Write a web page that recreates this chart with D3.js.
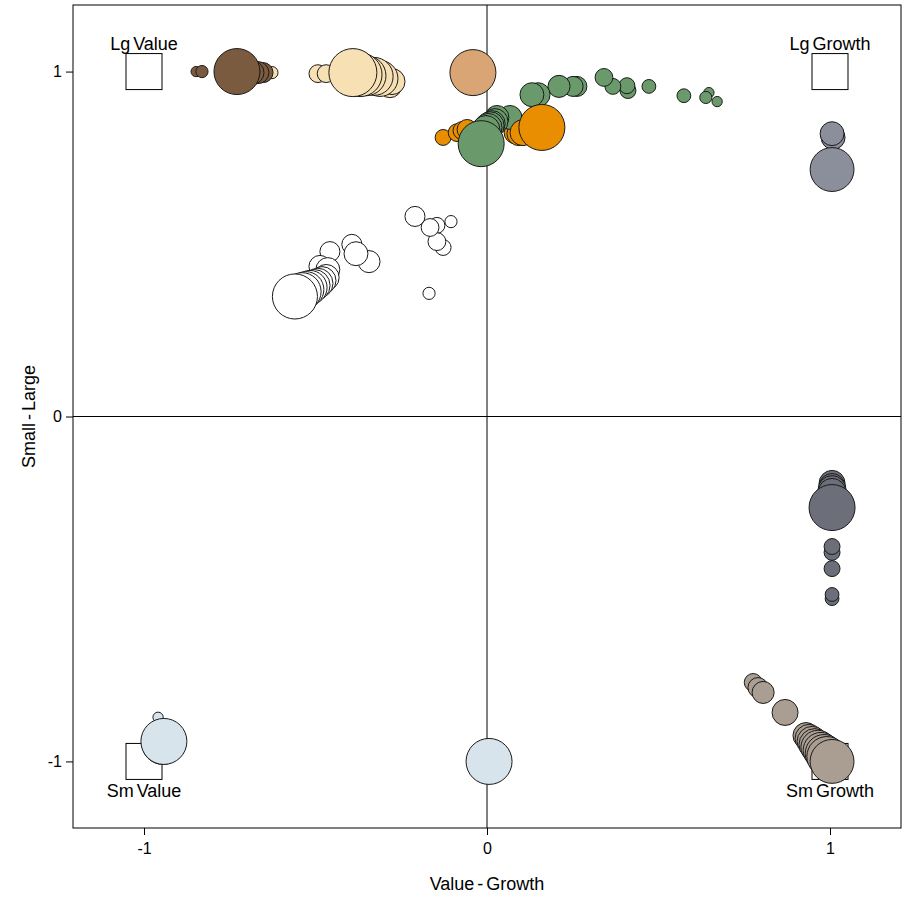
<!DOCTYPE html>
<html>
<head>
<meta charset="utf-8">
<script src="https://cdn.jsdelivr.net/npm/d3@7"></script>
<style>
  html, body { margin: 0; padding: 0; background: #fff; }
  svg { display: block; font-family: "Liberation Sans", Arial, sans-serif; }
</style>
</head>
<body>
<svg id="chart" width="912" height="897"></svg>
<script>
// ---- data: [value-growth, small-large, weight] (oldest -> newest) ----
const xTicks = [-1, 0, 1];
const yTicks = [-1, 0, 1];
const xTitle = "Value - Growth";
const yTitle = "Small - Large";

const styleBoxes = [
  { name: "Lg Value", x: -1, y: 1, pos: "above" },
  { name: "Lg Growth", x: 1, y: 1, pos: "above" },
  { name: "Sm Value", x: -1, y: -1, pos: "below" },
  { name: "Sm Growth", x: 1, y: -1, pos: "below" }
];

const brownPts = [[-0.848,1.000,5],[-0.831,1.000,7],[-0.653,0.997,19],[-0.668,0.997,23],[-0.685,0.997,27],[-0.703,1.000,37],[-0.729,1.000,100]];
const wheatPts = [[-0.627,0.997,7],[-0.493,0.994,15],[-0.469,0.994,15],[-0.283,0.959,27],[-0.277,0.971,32],[-0.312,0.980,61],[-0.329,0.986,68],[-0.353,0.988,76],[-0.370,0.991,91],[-0.391,0.997,109]];
const tanPts = [[-0.041,0.997,100]];
const orangePts = [[-0.128,0.809,12],[-0.087,0.823,15],[-0.073,0.829,15],[-0.058,0.832,19],[0.082,0.823,23],[0.093,0.820,27],[0.105,0.823,32],[0.160,0.838,100]];
const greenPts = [[0.671,0.913,5],[0.647,0.939,5],[0.638,0.925,7],[0.574,0.930,9],[0.472,0.957,9],[0.411,0.945,12],[0.408,0.959,12],[0.367,0.957,12],[0.341,0.983,15],[0.262,0.957,19],[0.251,0.957,19],[0.210,0.957,23],[0.149,0.933,27],[0.131,0.933,27],[0.067,0.867,27],[0.029,0.867,27],[0.023,0.855,32],[0.015,0.849,32],[0.009,0.843,37],[0.003,0.838,37],[-0.003,0.832,37],[-0.017,0.791,100]];
const whitePts = [[-0.169,0.357,7],[-0.105,0.565,7],[-0.128,0.490,12],[-0.146,0.507,15],[-0.146,0.554,12],[-0.166,0.548,15],[-0.210,0.580,19],[-0.344,0.449,23],[-0.382,0.472,27],[-0.394,0.499,19],[-0.458,0.478,19],[-0.487,0.435,23],[-0.464,0.426,27],[-0.469,0.403,32],[-0.481,0.394,37],[-0.493,0.386,43],[-0.504,0.380,48],[-0.516,0.374,55],[-0.528,0.368,61],[-0.539,0.362,68],[-0.560,0.348,96]];
const greyBluePts = [[1.009,0.809,27],[1.006,0.820,27],[1.006,0.716,91]];
const darkGreyPts = [[1.006,-0.528,9],[1.006,-0.516,9],[1.006,-0.441,12],[1.006,-0.394,12],[1.006,-0.377,12],[1.006,-0.194,32],[1.006,-0.203,32],[1.006,-0.212,37],[1.006,-0.220,37],[1.006,-0.264,100]];
const taupePts = [[0.776,-0.771,15],[0.790,-0.786,19],[0.805,-0.800,23],[0.869,-0.858,32],[0.918,-0.910,7],[0.930,-0.925,32],[0.939,-0.933,37],[0.948,-0.942,43],[0.956,-0.951,48],[0.965,-0.959,55],[0.974,-0.968,61],[0.983,-0.977,68],[0.991,-0.986,76],[1.006,-1.000,91]];
const lightBluePts = [[-0.959,-0.872,5],[-0.945,-0.948,83],[-0.942,-0.942,100]];
const lightBlue2Pts = [[0.006,-1.000,100]];

const seriesColors = {
  brown: "#7b5b3f", wheat: "#f7e0b3", tan: "#d9a574", orange: "#e88e00",
  green: "#6a9a6b", white: "#ffffff", greyBlue: "#8b8f9c", darkGrey: "#6c6f79",
  taupe: "#aa9e92", lightBlue: "#d7e4ec", lightBlue2: "#d7e4ec"
};
const seriesData = {
  brown: brownPts, wheat: wheatPts, tan: tanPts, orange: orangePts, green: greenPts,
  white: whitePts, greyBlue: greyBluePts, darkGrey: darkGreyPts, taupe: taupePts,
  lightBlue: lightBluePts, lightBlue2: lightBlue2Pts
};

// ---- layout ----
const svg = d3.select("#chart");
const L = 73, R = 901, T = 5, B = 828;
const x = d3.scaleLinear().domain([-1.207, 1.207]).range([L, R]);
const y = d3.scaleLinear().domain([-1.193, 1.193]).range([B, T]);
const r = d3.scaleSqrt().domain([0, 100]).range([0, 23]);

// zero reference lines
svg.append("line").attr("x1", x(0)).attr("x2", x(0)).attr("y1", T).attr("y2", B)
  .attr("stroke", "#000").attr("stroke-width", 1);
svg.append("line").attr("x1", L).attr("x2", R).attr("y1", y(0)).attr("y2", y(0))
  .attr("stroke", "#000").attr("stroke-width", 1);

// style boxes
const boxSize = 36;
const boxes = svg.append("g");
boxes.selectAll("rect").data(styleBoxes).join("rect")
  .attr("x", d => x(d.x) - boxSize / 2)
  .attr("y", d => y(d.y) - boxSize / 2)
  .attr("width", boxSize).attr("height", boxSize)
  .attr("fill", "#fff").attr("stroke", "#000").attr("stroke-width", 1);

// points, drawn small to large
const allPts = [];
Object.keys(seriesData).forEach(k => {
  seriesData[k].forEach((p, i) => allPts.push({ key: k, x: p[0], y: p[1], w: p[2], i }));
});
allPts.sort((a, b) => a.w - b.w);
svg.append("g").selectAll("circle").data(allPts).join("circle")
  .attr("cx", d => x(d.x)).attr("cy", d => y(d.y)).attr("r", d => r(d.w))
  .attr("fill", d => seriesColors[d.key])
  .attr("stroke", "#1a1a1a").attr("stroke-width", 1);

// box labels
svg.append("g").selectAll("text").data(styleBoxes).join("text")
  .attr("x", d => x(d.x))
  .attr("y", d => d.pos === "above" ? y(d.y) - boxSize / 2 - 4 : y(d.y) + boxSize / 2 + 18)
  .attr("text-anchor", "middle")
  .attr("font-size", 18).attr("word-spacing", -2)
  .attr("fill", "#000")
  .text(d => d.name);

// frame
svg.append("rect").attr("x", L).attr("y", T).attr("width", R - L).attr("height", B - T)
  .attr("fill", "none").attr("stroke", "#000").attr("stroke-width", 1);

// axes
const xAxis = svg.append("g").attr("transform", `translate(0,${B})`)
  .call(d3.axisBottom(x).tickValues(xTicks).tickSize(7).tickPadding(8).tickFormat(d => String(d)));
const yAxis = svg.append("g").attr("transform", `translate(${L},0)`)
  .call(d3.axisLeft(y).tickValues(yTicks).tickSize(7).tickPadding(4).tickFormat(d => String(d)));
[xAxis, yAxis].forEach(a => {
  a.select(".domain").remove();
  a.selectAll("text").attr("font-size", 16).attr("fill", "#000")
    .attr("font-family", "Liberation Sans, Arial, sans-serif");
  a.selectAll("line").attr("stroke", "#000");
});

// titles
svg.append("text").attr("x", (L + R) / 2).attr("y", 890).attr("text-anchor", "middle")
  .attr("font-size", 18).attr("word-spacing", -2).text(xTitle);
svg.append("text").attr("transform", `translate(35,${y(0)}) rotate(-90)`)
  .attr("text-anchor", "middle").attr("font-size", 18).attr("word-spacing", -2).text(yTitle);
</script>
</body>
</html>
